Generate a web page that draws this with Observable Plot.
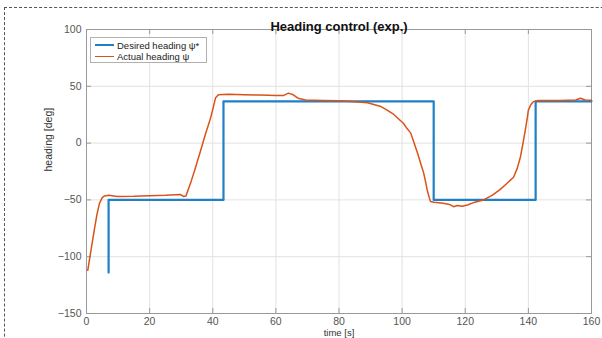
<!DOCTYPE html>
<html>
<head>
<meta charset="utf-8">
<script src="https://cdn.jsdelivr.net/npm/d3@7"></script>
<script src="https://cdn.jsdelivr.net/npm/@observablehq/plot@0.6"></script>
<style>
  html, body { margin: 0; padding: 0; background: #fff; overflow: hidden; }
  #wrap { position: relative; width: 602px; height: 338px; font-family: "Liberation Sans", Arial, sans-serif; }
  #border { position: absolute; left: 4px; top: 7px; width: 700px; height: 400px; border: 1px dashed #555; box-sizing: border-box; pointer-events: none; }
  #legend { position: absolute; left: 90px; top: 37px; width: 117px; height: 26px; background: #fff; border: 1px solid #b0b0b0; box-sizing: border-box; font-size: 9.5px; color: #222; }
  .row { position: absolute; left: 4px; height: 12px; display: flex; align-items: center; white-space: nowrap; }
  .sw { width: 19px; height: 0; margin-right: 3px; }
</style>
</head>
<body>
<div id="wrap">
  <div id="chart"></div>
  <div id="border"></div>
  <div id="legend">
    <div class="row" style="top:1px"><span class="sw" style="border-top:2px solid #1f80c6"></span>Desired heading ψ*</div>
    <div class="row" style="top:12px"><span class="sw" style="border-top:1.5px solid #D95319"></span>Actual heading ψ</div>
  </div>
</div>
<script>
const xTicks = [0, 20, 40, 60, 80, 100, 120, 140, 160];
const yTicks = [-150, -100, -50, 0, 50, 100];

// Desired heading (step reference)
const desiredT = [7, 7, 43.4, 110, 142.3, 160];
const desiredV = [-114, -50, 36.8, -50, 36.8, 36.8];

// Actual heading
const actualT = [0.4, 1.5, 2.5, 3.3, 4.1, 5.0, 5.7, 7, 9.8, 15, 20, 25, 29.8, 30.7, 31.5, 33, 34.5, 36, 37.7, 39.3, 40.3, 40.9, 41.8, 45, 50, 55, 60, 62.5, 64, 65.5, 67, 69.4, 75, 80, 85, 89, 93, 95, 97, 99, 100.4, 101.5, 102.7, 103.8, 104.9, 106, 106.8, 107.5, 108, 108.6, 109, 110, 111.5, 113, 115, 116.3, 117.5, 119, 120.7, 123, 125.8, 128.5, 131, 133, 135.3, 136.5, 137.5, 138.3, 139, 139.6, 140, 140.8, 141.6, 143, 150, 155, 156.5, 158, 160];
const actualV = [-112, -93, -76, -63, -53, -48, -46.5, -46, -47, -46.8, -46.3, -46, -45.3, -47, -46.5, -35, -22, -8, 8, 22, 33, 40, 42.5, 43, 42.6, 42.3, 41.8, 42, 44, 42.5, 39.5, 38, 37.5, 37.3, 36.5, 35.5, 32.5, 29.5, 26, 21, 17.5, 13, 9, 0, -9, -19, -26, -35, -42, -48, -51.5, -52, -52.5, -53, -54, -56, -55, -55.5, -54.5, -52, -50, -46, -41, -36, -30, -22, -12, 0, 11, 21, 29, 34, 36.5, 37.5, 37.5, 38, 39.5, 38, 37.8];

const desired = desiredT.map((t, i) => ({t, v: desiredV[i]}));
const actual = actualT.map((t, i) => ({t, v: actualV[i]}));

const font = "'Liberation Sans', Arial, sans-serif";

const chart = Plot.plot({
  width: 602,
  height: 338,
  marginLeft: 86,
  marginRight: 11,
  marginTop: 29,
  marginBottom: 25,
  style: { fontFamily: font, fontSize: "10.5px", color: "#444", background: "transparent" },
  x: { domain: [0, 160], ticks: xTicks },
  y: { domain: [-150, 100], ticks: yTicks },
  marks: [
    Plot.gridX(xTicks, { stroke: "#e2e2e2", strokeOpacity: 1 }),
    Plot.gridY(yTicks, { stroke: "#e2e2e2", strokeOpacity: 1 }),
    Plot.axisX(xTicks, { tickSize: 0, tickPadding: 4, label: null, fill: "#555" }),
    Plot.axisY(yTicks, { tickSize: 0, tickPadding: 5, label: null, fill: "#555" }),
    Plot.tickX(xTicks, { x: d => d, insetTop: 279, stroke: "#999" }),
    Plot.tickX(xTicks, { x: d => d, insetBottom: 279, stroke: "#999" }),
    Plot.tickY(yTicks, { y: d => d, insetRight: 500, stroke: "#999" }),
    Plot.tickY(yTicks, { y: d => d, insetLeft: 500, stroke: "#999" }),
    Plot.frame({ stroke: "#999" }),
    Plot.line(desired, { x: "t", y: "v", curve: "step-after", stroke: "#1f80c6", strokeWidth: 2.2 }),
    Plot.line(actual, { x: "t", y: "v", stroke: "#D95319", strokeWidth: 1.5 }),
    Plot.text(["Heading control (exp.)"], { frameAnchor: "top", dy: -8, fontWeight: "bold", fontSize: 13, fill: "#111" }),
    Plot.text(["time [s]"], { frameAnchor: "bottom", dy: 16, lineAnchor: "top", fontSize: 9.5, fill: "#333" }),
    Plot.text(["heading [deg]"], { frameAnchor: "left", dx: -38, rotate: -90, fontSize: 10.5, fill: "#333" })
  ]
});
document.getElementById("chart").appendChild(chart);
</script>
</body>
</html>
